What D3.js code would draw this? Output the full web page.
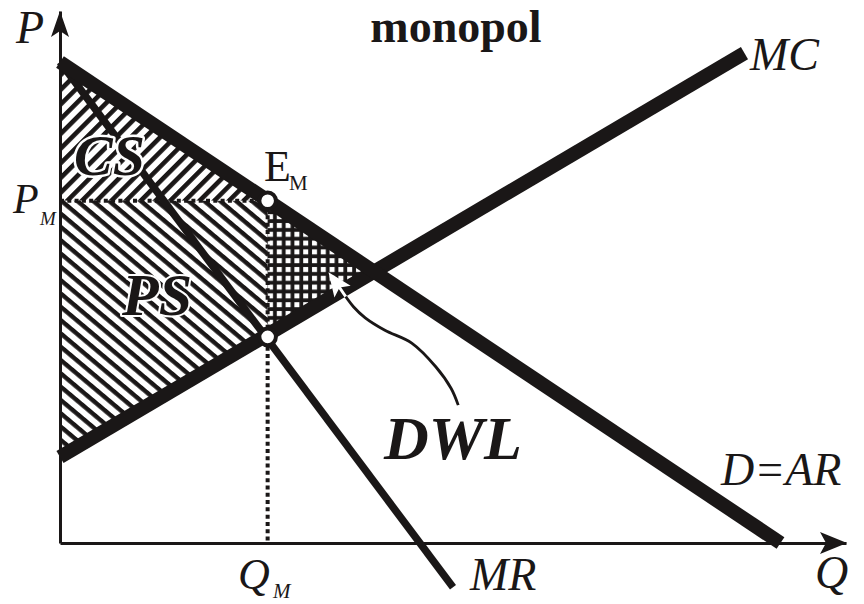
<!DOCTYPE html>
<html>
<head>
<meta charset="utf-8">
<script src="https://cdn.jsdelivr.net/npm/d3@7"></script>
<style>
  html, body { margin: 0; padding: 0; background: #fff; }
  svg { display: block; }
</style>
</head>
<body>
<script>
// ---------- data ----------
const qDomain = [0, 12];
const pDomain = [0, 12];

const demandQ = [0, 11];
const demandP = [10.85, 0];

const mrQ = [0, 6];
const mrP = [10.85, -1.0];

const mcQ = [0, 10.45];
const mcP = [1.94, 11.05];

const monopolyQ = [3.17];          // Q_M
const monopolyP = [7.72];          // P_M (on demand)
const mcAtQM    = [4.65];          // MR = MC point
const competitiveQ = [4.795];      // D = MC
const competitiveP = [6.12];

// DWL arrow annotation path (data units)
const arrowQ = [6.08, 5.97, 5.74, 5.37, 4.96, 4.66, 4.48, 4.26];
const arrowP = [3.11, 3.49, 3.97, 4.51, 4.80, 5.08, 5.33, 5.78];

const title = "monopol";
const fontFamily = "'Liberation Serif', 'Times New Roman', serif";

// ---------- setup ----------
const W = 864, H = 604;
const x = d3.scaleLinear().domain(qDomain).range([60, 846]);
const y = d3.scaleLinear().domain(pDomain).range([543, 11]);

const svg = d3.select("body").append("svg").attr("width", W).attr("height", H);
svg.append("rect").attr("width", W).attr("height", H).attr("fill", "#fff");

const ink = "#1a1717";
const defs = svg.append("defs");
// CS hatch "/"
const pCS = defs.append("pattern").attr("id", "hatchCS")
  .attr("patternUnits", "userSpaceOnUse").attr("width", 10.4).attr("height", 10.4)
  .attr("patternTransform", "rotate(-45)");
pCS.append("rect").attr("width", 10.4).attr("height", 10.4).attr("fill", "#fff");
pCS.append("rect").attr("width", 10.4).attr("height", 4.6).attr("fill", ink);
// PS hatch "\"
const pPS = defs.append("pattern").attr("id", "hatchPS")
  .attr("patternUnits", "userSpaceOnUse").attr("width", 10.2).attr("height", 10.2)
  .attr("patternTransform", "rotate(40)");
pPS.append("rect").attr("width", 10.2).attr("height", 10.2).attr("fill", "#fff");
pPS.append("rect").attr("width", 10.2).attr("height", 4.4).attr("fill", ink);
// DWL grid
const pD = defs.append("pattern").attr("id", "gridDWL")
  .attr("patternUnits", "userSpaceOnUse").attr("width", 8.8).attr("height", 8.8)
  .attr("x", 2).attr("y", 1);
pD.append("rect").attr("width", 8.8).attr("height", 8.8).attr("fill", ink);
pD.append("rect").attr("x", 2).attr("y", 2).attr("width", 5).attr("height", 5).attr("fill", "#fff");

const line = d3.line().x(d => x(d[0])).y(d => y(d[1]));
const zip = (a, b) => a.map((v, i) => [v, b[i]]);

const qM = monopolyQ[0], pM = monopolyP[0], mM = mcAtQM[0];
const qC = competitiveQ[0], pC = competitiveP[0];

// mask for the part of the arrow lying on black
const mask = defs.append("mask").attr("id", "onBlack")
  .attr("maskUnits", "userSpaceOnUse").attr("x", 0).attr("y", 0).attr("width", W).attr("height", H);
mask.append("rect").attr("width", W).attr("height", H).attr("fill", "#000");
mask.append("path").attr("d", line(zip(mcQ, mcP))).attr("stroke", "#fff").attr("stroke-width", 14).attr("fill", "none");
mask.append("path").attr("d", line([[qM, pM], [qC, pC], [qM, mM]]) + "Z").attr("fill", "#fff");

// ---------- areas ----------
svg.append("path").attr("d", line([[0, demandP[0]], [qM, pM], [0, pM]]) + "Z")
  .attr("fill", "url(#hatchCS)");
svg.append("path").attr("d", line([[0, pM], [qM, pM], [qM, mM], [0, mcP[0]]]) + "Z")
  .attr("fill", "url(#hatchPS)");
svg.append("path").attr("d", line([[qM, pM], [qC, pC], [qM, mM]]) + "Z")
  .attr("fill", "url(#gridDWL)");

// ---------- dotted guides ----------
svg.append("path").attr("d", line([[0, pM], [qM, pM]]))
  .attr("stroke", ink).attr("stroke-width", 4).attr("stroke-dasharray", "4,3.3").attr("fill", "none");
svg.append("path").attr("d", line([[qM, pM], [qM, 0]]))
  .attr("stroke", ink).attr("stroke-width", 4).attr("stroke-dasharray", "4,3.3").attr("fill", "none");

// ---------- axes ----------
const xAxis = d3.axisBottom(x).tickValues([]).tickSizeOuter(0);
const yAxis = d3.axisLeft(y).tickValues([]).tickSizeOuter(0);
svg.append("g").attr("transform", `translate(0,${y(0)})`).call(xAxis)
  .select(".domain").attr("stroke", ink).attr("stroke-width", 3);
svg.append("g").attr("transform", `translate(${x(0)},0)`).call(yAxis)
  .select(".domain").attr("stroke", ink).attr("stroke-width", 3);
// arrowheads
const xe = x(qDomain[1]), ye = y(pDomain[1]);
svg.append("path").attr("fill", ink)
  .attr("d", `M${xe + 1},${y(0)} L${xe - 26},${y(0) - 11} L${xe - 20},${y(0)} L${xe - 26},${y(0) + 11} Z`);
svg.append("path").attr("fill", ink)
  .attr("d", `M${x(0)},${ye} L${x(0) - 9},${ye + 26} L${x(0)},${ye + 20} L${x(0) + 9},${ye + 26} Z`);

// ---------- curves ----------
svg.append("path").attr("d", line(zip(mrQ, mrP)))
  .attr("stroke", ink).attr("stroke-width", 7.5).attr("fill", "none");
svg.append("path").attr("d", line(zip(mcQ, mcP)))
  .attr("stroke", ink).attr("stroke-width", 14).attr("fill", "none");
svg.append("path").attr("d", line(zip(demandQ, demandP)))
  .attr("stroke", ink).attr("stroke-width", 14).attr("fill", "none");

// ---------- DWL arrow ----------
const arrowPts = zip(arrowQ, arrowP);
const curve = d3.line().x(d => x(d[0])).y(d => y(d[1])).curve(d3.curveCatmullRom);
svg.append("path").attr("d", curve(arrowPts))
  .attr("stroke", ink).attr("stroke-width", 2.8).attr("fill", "none");
svg.append("path").attr("d", curve(arrowPts))
  .attr("stroke", "#fff").attr("stroke-width", 3).attr("fill", "none").attr("mask", "url(#onBlack)");
{
  const a = arrowPts[arrowPts.length - 2], b = arrowPts[arrowPts.length - 1];
  const bx = x(b[0]), by = y(b[1]);
  const dx = bx - x(a[0]), dy = by - y(a[1]);
  const L = Math.hypot(dx, dy), ux = dx / L, uy = dy / L, nx = -uy, ny = ux;
  const len = 24, hw = 10, notch = 5;
  const tx = bx + ux * (len - 6), ty = by + uy * (len - 6);
  const p1 = [tx - ux * len + nx * hw, ty - uy * len + ny * hw];
  const p2 = [tx - ux * (len - notch), ty - uy * (len - notch)];
  const p3 = [tx - ux * len - nx * hw, ty - uy * len - ny * hw];
  svg.append("path").attr("fill", "#fff")
    .attr("d", `M${tx},${ty} L${p1[0]},${p1[1]} L${p2[0]},${p2[1]} L${p3[0]},${p3[1]} Z`);
}

// ---------- equilibrium points ----------
svg.selectAll("circle.pt").data([[qM, pM], [qM, mM]]).join("circle")
  .attr("class", "pt").attr("cx", d => x(d[0])).attr("cy", d => y(d[1]))
  .attr("r", 8.3).attr("fill", "#fff").attr("stroke", ink).attr("stroke-width", 4);

// ---------- text ----------
function txt(t, px, py, size, opts = {}) {
  const el = svg.append("text").attr("x", px).attr("y", py)
    .attr("font-family", fontFamily).attr("font-size", size)
    .attr("font-style", opts.italic ? "italic" : "normal")
    .attr("font-weight", opts.bold ? "bold" : "normal")
    .attr("fill", ink).attr("text-anchor", opts.anchor || "start").text(t);
  if (opts.halo) {
    el.attr("stroke", "#fff").attr("stroke-width", opts.halo)
      .attr("paint-order", "stroke").attr("stroke-linejoin", "round");
  }
  return el;
}

txt(title, 456, 42, 46, { bold: true, anchor: "middle" });
txt("P", 16, 43, 46, { italic: true });
txt("MC", 750, 70, 46, { italic: true });
txt("E", 264, 181, 44);
txt("М", 289, 190, 21);
txt("P", 13, 213, 42, { italic: true });
txt("M", 40, 225, 19, { italic: true });
txt("CS", 74, 175, 58, { italic: true, bold: true, halo: 5 });
txt("PS", 122, 315, 60, { italic: true, bold: true, halo: 4 });
txt("DWL", 384, 459, 62, { italic: true, bold: true });
txt("D=AR", 721, 485, 46, { italic: true });
txt("Q", 238, 589, 44, { italic: true });
txt("M", 273, 598, 21, { italic: true });
txt("MR", 470, 590, 46, { italic: true });
txt("Q", 815, 588, 46, { italic: true });
</script>
</body>
</html>
